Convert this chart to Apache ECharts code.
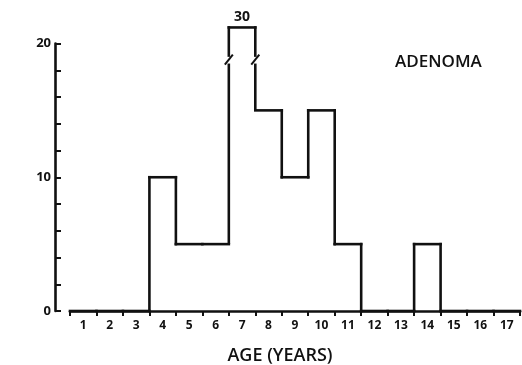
<!DOCTYPE html>
<html>
<head>
<meta charset="utf-8">
<script src="https://cdn.jsdelivr.net/npm/echarts@6/dist/echarts.min.js"></script>
<style>
  html, body { margin: 0; padding: 0; background: #fff; }
  #chart { width: 522px; height: 365px; }
</style>
</head>
<body>
<div id="chart"></div>
<script>
// Data
const ages = ['1', '2', '3', '4', '5', '6', '7', '8', '9', '10', '11', '12', '13', '14', '15', '16', '17'];
const counts = [0, 0, 0, 10, 5, 5, 30, 15, 10, 15, 5, 0, 0, 5, 0, 0, 0];
const yLabelValues = [0, 10, 20];
const axisMax = 20;       // top of the drawn scale
const brokenTop = 21.2;   // where an off-scale bar is drawn
const breakLevel = 18.8;  // where the break marks sit

const ink = '#111';
const font = '"Open Sans", "Noto Sans", sans-serif';

const chart = echarts.init(document.getElementById('chart'));

function shown(v) {
  return v > axisMax ? brokenTop : v;
}

// draws one bin of the histogram outline: its top and its left edge
function renderBin(params, api) {
  const i = params.dataIndex;
  const v = counts[i];
  const prev = i > 0 ? counts[i - 1] : 0;
  const c = api.coord([i, shown(v)]);
  const half = api.size([1, 0])[0] / 2;
  const left = c[0] - half;
  const right = c[0] + half;
  const yTop = c[1];
  const yPrev = api.coord([i, shown(prev)])[1];
  const style = { stroke: ink, lineWidth: 2.6, lineCap: 'square' };
  const children = [];

  children.push({ type: 'line', shape: { x1: left, y1: yTop, x2: right, y2: yTop }, style });

  const edges = [];
  if (yPrev !== yTop) edges.push({ x: left, a: yPrev, b: yTop, broken: v > axisMax || prev > axisMax });
  if (i === counts.length - 1 && v > 0) {
    edges.push({ x: right, a: api.coord([i, 0])[1], b: yTop, broken: v > axisMax });
  }

  edges.forEach(e => {
    const lo = Math.max(e.a, e.b);
    const hi = Math.min(e.a, e.b);
    if (e.broken) {
      const yb = api.coord([i, breakLevel])[1];
      children.push({ type: 'line', shape: { x1: e.x, y1: lo, x2: e.x, y2: yb + 4 }, style: { stroke: ink, lineWidth: 2.6 } });
      children.push({ type: 'line', shape: { x1: e.x, y1: yb - 4, x2: e.x, y2: hi }, style });
      children.push({ type: 'line', shape: { x1: e.x - 4, y1: yb + 5, x2: e.x + 4, y2: yb - 5 }, style: { stroke: ink, lineWidth: 2 } });
    } else {
      children.push({ type: 'line', shape: { x1: e.x, y1: lo, x2: e.x, y2: hi }, style });
    }
  });

  if (v > axisMax) {
    children.push({
      type: 'text',
      x: c[0],
      y: yTop - 3,
      style: { text: String(v), align: 'center', verticalAlign: 'bottom', font: '700 14px ' + font, fill: ink }
    });
  }

  return { type: 'group', children };
}

const option = {
  backgroundColor: '#fff',
  animation: false,
  title: [
    {
      text: 'ADENOMA',
      left: 390,
      top: 49,
      textStyle: { fontFamily: font, fontSize: 17, fontWeight: 600, color: ink }
    },
    {
      text: 'AGE (YEARS)',
      left: 275,
      top: 342,
      textAlign: 'center',
      textStyle: { fontFamily: font, fontSize: 18, fontWeight: 600, color: ink }
    }
  ],
  grid: { left: 70, right: 2, top: 43.5, bottom: 54 },
  xAxis: {
    type: 'category',
    data: ages,
    boundaryGap: true,
    axisLine: { lineStyle: { color: ink, width: 2.6 } },
    axisTick: { show: true, inside: false, length: 5, lineStyle: { color: ink, width: 2 } },
    axisLabel: { color: ink, fontFamily: font, fontSize: 12, fontWeight: 700, margin: 9 },
    splitLine: { show: false }
  },
  yAxis: {
    type: 'value',
    min: 0,
    max: axisMax,
    interval: 2,
    offset: 15,
    axisLine: { show: true, lineStyle: { color: ink, width: 2.6 } },
    axisTick: { show: true, inside: true, length: 6, lineStyle: { color: ink, width: 2 } },
    axisLabel: {
      color: ink,
      fontFamily: font,
      fontSize: 13,
      fontWeight: 700,
      margin: 4,
      formatter: v => (yLabelValues.includes(v) ? String(v) : '')
    },
    splitLine: { show: false }
  },
  series: [
    {
      type: 'custom',
      renderItem: renderBin,
      encode: { x: 0, y: 1 },
      data: counts.map((v, i) => [i, v]),
      clip: false,
      silent: true
    }
  ]
};

chart.setOption(option);
</script>
</body>
</html>
